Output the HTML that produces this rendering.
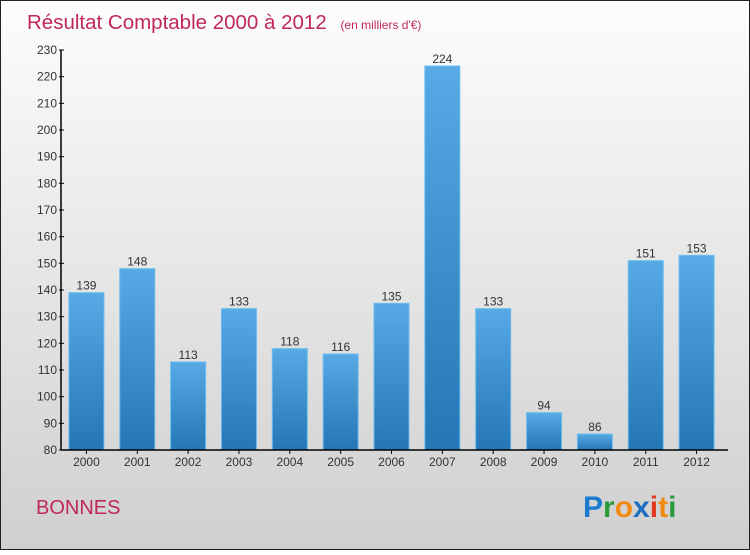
<!DOCTYPE html>
<html><head><meta charset="utf-8"><style>
body{margin:0;width:750px;height:550px;overflow:hidden;font-family:"Liberation Sans",sans-serif}
</style></head><body>
<svg width="750" height="550" xmlns="http://www.w3.org/2000/svg">
<defs>
<linearGradient id="bg" x1="0" y1="0" x2="0" y2="1"><stop offset="0" stop-color="#fdfdfd"/><stop offset="1" stop-color="#cfcfcf"/></linearGradient>
<linearGradient id="bar" x1="0" y1="0" x2="0" y2="1"><stop offset="0" stop-color="#58aae6"/><stop offset="1" stop-color="#2476b4"/></linearGradient>
</defs>
<rect x="0.5" y="0.5" width="749" height="549" fill="url(#bg)" stroke="#222"/>
<text x="27" y="29" font-size="20.5" fill="#c0285a">Résultat Comptable 2000 à 2012 <tspan font-size="12" dx="8">(en milliers d'€)</tspan></text>
<text x="36" y="514" font-size="20" fill="#c0285a">BONNES</text>
<g font-size="30" font-weight="bold" font-family="Liberation Sans,sans-serif">
<text x="583" y="517"><tspan fill="#1a7bd0">P</tspan><tspan fill="#2a9a3a">r</tspan><tspan fill="#f08a10">o</tspan><tspan fill="#1a6fc0">x</tspan><tspan fill="#e03a20">i</tspan><tspan fill="#f08a10">t</tspan><tspan fill="#2a9a3a">i</tspan></text>
</g>
<g id="plot"></g>
</svg>
<script>
const categories=["2000","2001","2002","2003","2004","2005","2006","2007","2008","2009","2010","2011","2012"];
const values=[139,148,113,133,118,116,135,224,133,94,86,151,153];
const yTicks=[80,90,100,110,120,130,140,150,160,170,180,190,200,210,220,230];
const X0=61,X1=722,Y0=450,Y1=50,YMIN=80,YMAX=230;
const band=(X1-X0)/categories.length;
function y(v){return Y0-(v-YMIN)/(YMAX-YMIN)*(Y0-Y1);}
function xc(i){return X0+band*(i+0.5);}
const ns="http://www.w3.org/2000/svg",g=document.getElementById('plot');
function mk(t,a,txt){const e=document.createElementNS(ns,t);for(const k in a)e.setAttribute(k,a[k]);if(txt!=null)e.textContent=txt;g.appendChild(e);return e;}
values.forEach((v,i)=>{
 const r=mk('rect',{x:xc(i)-17.5,y:y(v),width:35,height:Y0-y(v),fill:'url(#bar)',stroke:'#6bbcf0','stroke-width':1});
 
 
 const l=mk('text',{x:xc(i),y:y(v)-3,'font-size':12,fill:'#333','text-anchor':'middle'},String(v));
 
 
 const c=mk('text',{x:xc(i),y:466,'font-size':12,fill:'#333','text-anchor':'middle'},categories[i]);
 
 
 const tk=mk('line',{x1:xc(i),x2:xc(i),y1:Y0,y2:Y0+4,stroke:'#000'});
 
 
});
yTicks.forEach(t=>{
 const l=mk('text',{x:57,y:y(t)+4,'font-size':12,fill:'#333','text-anchor':'end'},String(t));
 
 
 const m=mk('line',{x1:X0-2,x2:X0+3,y1:y(t),y2:y(t),stroke:'#000'});
 
 
});
const ya=mk('line',{x1:X0,x2:X0,y1:Y1,y2:Y0,stroke:'#000','stroke-width':1.5});


const xa=mk('line',{x1:X0,x2:X1+6,y1:Y0,y2:Y0,stroke:'#000','stroke-width':1.5});


</script>
</body></html>
